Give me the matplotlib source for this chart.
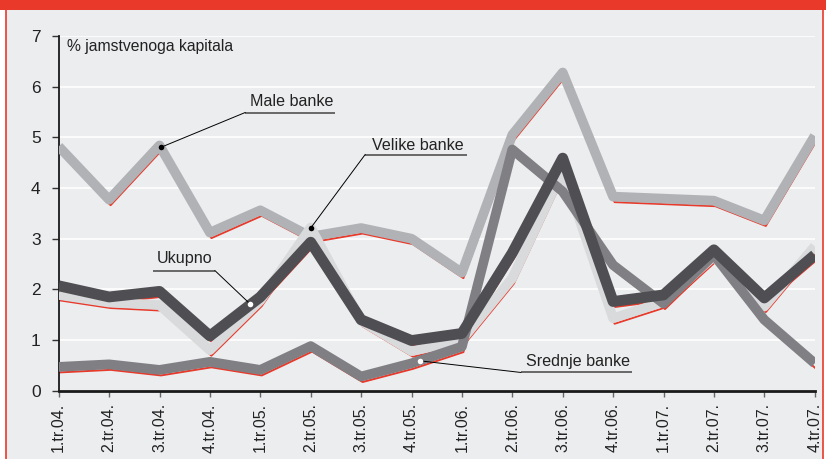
import matplotlib
matplotlib.use("Agg")
import matplotlib.pyplot as plt
from matplotlib.patches import Rectangle
from matplotlib.transforms import offset_copy

plt.rcParams['font.family'] = ['Liberation Sans', 'DejaVu Sans']

# kvartali
kvartali = ["1.tr.04.", "2.tr.04.", "3.tr.04.", "4.tr.04.",
            "1.tr.05.", "2.tr.05.", "3.tr.05.", "4.tr.05.",
            "1.tr.06.", "2.tr.06.", "3.tr.06.", "4.tr.06.",
            "1.tr.07.", "2.tr.07.", "3.tr.07.", "4.tr.07."]

# vrijednosti u % jamstvenoga kapitala
male = [4.82, 3.77, 4.84, 3.12, 3.56, 3.04, 3.21, 3.00,
        2.33, 5.05, 6.28, 3.83, 3.79, 3.75, 3.36, 5.03]
velike = [1.89, 1.74, 1.69, 0.80, 1.78, 3.22, 1.38, 0.78,
          1.00, 2.22, 4.35, 1.43, 1.75, 2.65, 1.66, 2.85]
srednje = [0.47, 0.52, 0.41, 0.57, 0.41, 0.88, 0.28, 0.54,
           0.87, 4.76, 3.93, 2.48, 1.72, 2.68, 1.40, 0.54]
ukupno = [2.07, 1.85, 1.96, 1.08, 1.85, 2.93, 1.40, 0.99,
          1.13, 2.72, 4.59, 1.76, 1.89, 2.78, 1.83, 2.68]

crvena = "#e8392a"
pozadina = "#ecedef"

fig = plt.figure(figsize=(8.26, 4.59), dpi=100)
fig.patch.set_facecolor("white")

# okvir i crvena traka na vrhu
fig.patches.append(Rectangle((6/826, -0.05), 817/826, 1 - 9.5/459 + 0.05,
                             transform=fig.transFigure, facecolor=pozadina,
                             edgecolor=crvena, linewidth=1.2, zorder=-2))
fig.patches.append(Rectangle((0, 1 - 9.5/459), 1, 9.5/459,
                             transform=fig.transFigure, facecolor=crvena,
                             edgecolor="none", zorder=-1))

ax = fig.add_axes([58.7/826, 1 - 390.7/459, (814.7 - 58.7)/826, (390.7 - 36)/459])
ax.set_facecolor(pozadina)
ax.patch.set_alpha(0)

x = list(range(len(kvartali)))
# crvena sjena ispod svake linije
sjena = offset_copy(ax.transData, fig=fig, x=1.5, y=-5.5, units="dots")

serije = [(male, "#b1b2b5", 7.0),
          (velike, "#d9dadc", 7.0),
          (srednje, "#807f84", 7.0),
          (ukupno, "#4f4e52", 7.8)]

for i, (y, boja, lw) in enumerate(serije):
    ax.plot(x, y, color=crvena, lw=1.4, transform=sjena, zorder=2,
            solid_joinstyle="round")
for i, (y, boja, lw) in enumerate(serije):
    ax.plot(x, y, color=boja, lw=lw, zorder=3 + i, solid_joinstyle="round",
            solid_capstyle="butt")

ax.set_xlim(0, 15)
ax.set_ylim(0, 7)
ax.set_yticks(range(8))
ax.set_xticks(x)
ax.set_xticklabels(kvartali, rotation=90)
ax.yaxis.grid(True, color="white", lw=1.2)
ax.set_axisbelow(True)
for s in ["top", "right"]:
    ax.spines[s].set_visible(False)
ax.spines["left"].set_linewidth(1.3)
ax.spines["left"].set_color("#1a1a1a")
ax.spines["bottom"].set_linewidth(2.0)
ax.spines["bottom"].set_color("#1a1a1a")
ax.tick_params(axis="y", direction="out", length=5, width=1, color="#333333",
               labelsize=12.5, labelcolor="#222222", pad=8)
ax.tick_params(axis="x", direction="out", length=4, width=1, color="#666666",
               labelsize=11.5, labelcolor="#222222", pad=5)

ax.text(0.16, 6.8, "% jamstvenoga kapitala", fontsize=11.3, color="#222222",
        va="center", ha="left")

# oznake serija: tekst, podcrta, linija do točke
oznake = [("Male banke", 3.80, 5.71, 3.70, 5.48, 5.49, 2.02, 4.80, "black", "left"),
          ("Velike banke", 6.22, 4.84, 6.08, 8.10, 4.66, 5.00, 3.21, "black", "left"),
          ("Ukupno", 1.94, 2.60, 1.87, 3.10, 2.37, 3.80, 1.71, "white", "right"),
          ("Srednje banke", 9.27, 0.57, 9.17, 11.37, 0.36, 7.16, 0.59, "white", "left")]
for tekst, tx, ty, u0, u1, uy, dx, dy, tocka, kraj in oznake:
    ax.text(tx, ty, tekst, fontsize=11.6, color="#222222", va="center", ha="left",
            zorder=10)
    ax.plot([u0, u1], [uy, uy], color="#444444", lw=1.1, zorder=10,
            solid_capstyle="butt")
    px = u0 if kraj == "left" else u1
    ax.plot([px, dx], [uy, dy], color="black", lw=0.7, zorder=10)
    ax.plot([dx], [dy], "o", ms=4, color=tocka, mec="none", zorder=11)

fig.savefig("out.png", dpi=100, facecolor=fig.get_facecolor())
